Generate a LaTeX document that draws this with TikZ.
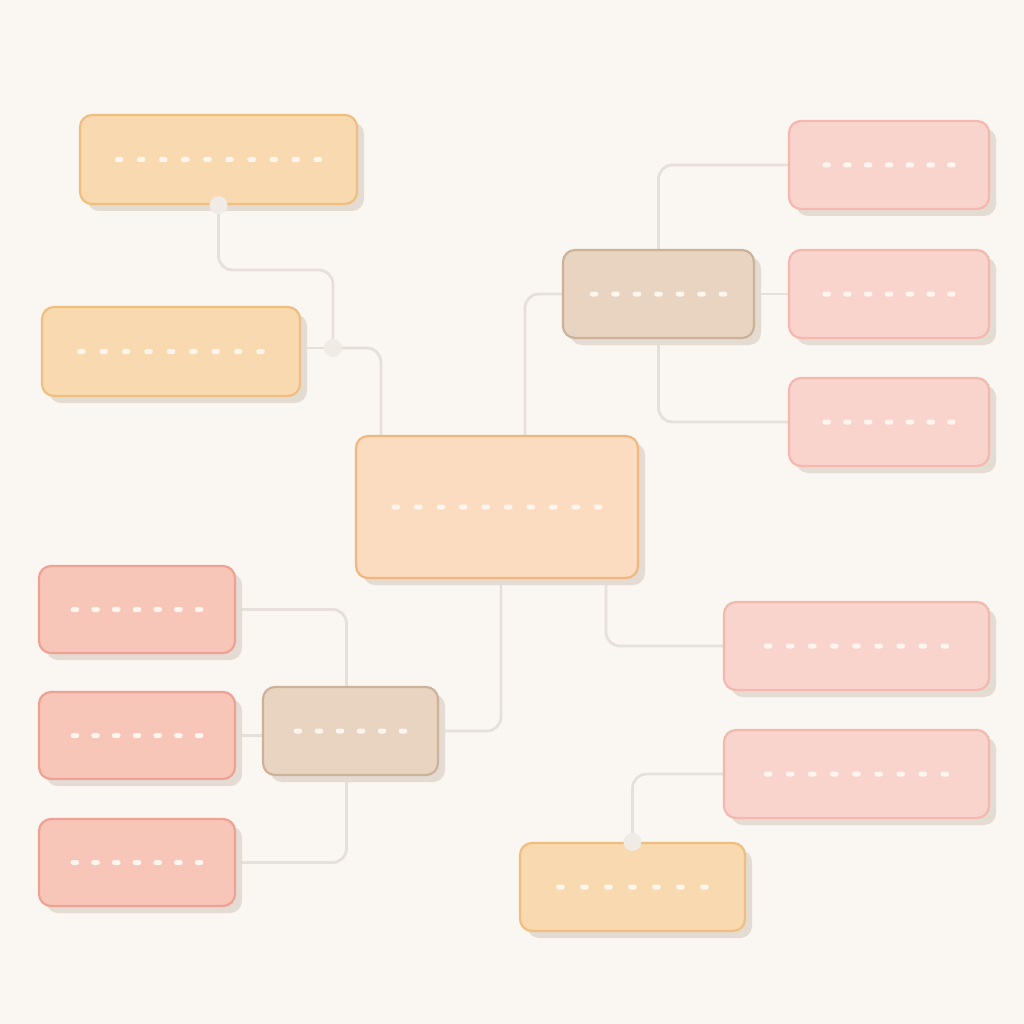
\documentclass[tikz,border=0pt]{standalone}
\usetikzlibrary{calc,shadows}
\definecolor{bgcol}{HTML}{FAF6F2}
\definecolor{shcol}{HTML}{E4DBD3}
\definecolor{conncol}{HTML}{E7E0DA}
\definecolor{dotcol}{HTML}{F1EBE6}
\definecolor{dashcol}{HTML}{FEF5EE}
\definecolor{ofill}{HTML}{F8D9B0}\definecolor{oline}{HTML}{F0BF80}
\definecolor{cfill}{HTML}{FCDCC0}\definecolor{cline}{HTML}{F2B77E}
\definecolor{bfill}{HTML}{E8D4C0}\definecolor{bline}{HTML}{CDB29A}
\definecolor{pfill}{HTML}{F9D4CD}\definecolor{pline}{HTML}{F4B8AE}
\definecolor{sfill}{HTML}{F8C5B9}\definecolor{sline}{HTML}{EFA193}
\pgfdeclarelayer{back}\pgfdeclarelayer{bg}
\pgfsetlayers{back,bg,main}
\newcommand\phrow[3]{%
  \foreach \i in {1,...,#2}{%
    \fill[dashcol,rounded corners=2.4pt] ($(#1.center)+({(\i-(#2+1)/2)*#3-4.3},-2.5)$) rectangle ($(#1.center)+({(\i-(#2+1)/2)*#3+4.3},2.5)$);
  }}
\tikzset{
  boxbase/.style={rounded corners=12pt, line width=2.2pt, inner sep=0pt,
     drop shadow={shadow xshift=7pt, shadow yshift=-7pt, fill=shcol, opacity=1}},
  obox/.style={boxbase, fill=ofill, draw=oline},
  cbox/.style={boxbase, fill=cfill, draw=cline},
  bbox/.style={boxbase, fill=bfill, draw=bline},
  pbox/.style={boxbase, fill=pfill, draw=pline},
  sbox/.style={boxbase, fill=sfill, draw=sline},
  conn/.style={draw=conncol, line width=2.8pt, rounded corners=14pt},
  jdot/.style={circle, fill=dotcol, minimum size=18pt, inner sep=0pt},
}
\begin{document}
\begin{tikzpicture}[x=1pt,y=-1pt]
\begin{pgfonlayer}{back}
\fill[bgcol] (0,0) rectangle (1024,1024);
\end{pgfonlayer}
\useasboundingbox (0,0) rectangle (1024,1024);
% nodes
\node[obox, minimum width=277pt, minimum height=89pt] (A) at (218.5,159.5) {};
\node[obox, minimum width=258pt, minimum height=89pt] (B) at (171,351.5) {};
\node[cbox, minimum width=282pt, minimum height=142pt] (C) at (497,507) {};
\node[bbox, minimum width=191pt, minimum height=88pt] (D) at (658.5,294) {};
\node[pbox, minimum width=200pt, minimum height=88pt] (E1) at (889,165) {};
\node[pbox, minimum width=200pt, minimum height=88pt] (E2) at (889,294) {};
\node[pbox, minimum width=200pt, minimum height=88pt] (E3) at (889,422) {};
\node[pbox, minimum width=265pt, minimum height=88pt] (F1) at (856.5,646) {};
\node[pbox, minimum width=265pt, minimum height=88pt] (F2) at (856.5,774) {};
\node[obox, minimum width=225pt, minimum height=88pt] (G) at (632.5,887) {};
\node[bbox, minimum width=175pt, minimum height=88pt] (H) at (350.5,731) {};
\node[sbox, minimum width=196pt, minimum height=87pt] (L1) at (137,609.5) {};
\node[sbox, minimum width=196pt, minimum height=87pt] (L2) at (137,735.5) {};
\node[sbox, minimum width=196pt, minimum height=87pt] (L3) at (137,862.5) {};
% placeholder dashes
\phrow{A}{10}{22.1}
\phrow{B}{9}{22.4}
\phrow{C}{10}{22.5}
\phrow{D}{7}{21.5}
\phrow{E1}{7}{20.8}
\phrow{E2}{7}{20.8}
\phrow{E3}{7}{20.8}
\phrow{F1}{9}{22.1}
\phrow{F2}{9}{22.1}
\phrow{G}{7}{24}
\phrow{H}{6}{21}
\phrow{L1}{7}{20.7}
\phrow{L2}{7}{20.7}
\phrow{L3}{7}{20.7}
% connectors
\coordinate (jB) at (333,348);
\coordinate (cT1) at ($(C.north west)+(26,0)$);
\coordinate (cT2) at ($(C.north west)+(170,0)$);
\coordinate (cB1) at ($(C.south west)+(146,0)$);
\coordinate (cB2) at ($(C.south west)+(251,0)$);
\begin{pgfonlayer}{bg}
\draw[conn] (A.south) |- (333,270) -- (jB);
\draw[conn] (B.east |- jB) -- (jB);
\draw[conn] (jB) -| (cT1);
\draw[conn] (cT2) |- (D.west);
\draw[conn] (D.north) |- (E1.west);
\draw[conn] (D.east) -- (E2.west);
\draw[conn] (D.south) |- (E3.west);
\draw[conn] (cB2) |- (F1.west);
\draw[conn] (cB1) |- (H.east);
\draw[conn] ($(H.north)+(-4,0)$) |- (L1.east);
\draw[conn] (L2.east -| H.west) -- (L2.east);
\draw[conn] ($(H.south)+(-4,0)$) |- (L3.east);
\draw[conn] (F2.west) -| (G.north);
\end{pgfonlayer}
\node[jdot] (dA) at (A.south) {};
\node[jdot] (dB) at (jB) {};
\node[jdot] (dG) at (G.north) {};
\end{tikzpicture}
\end{document}
